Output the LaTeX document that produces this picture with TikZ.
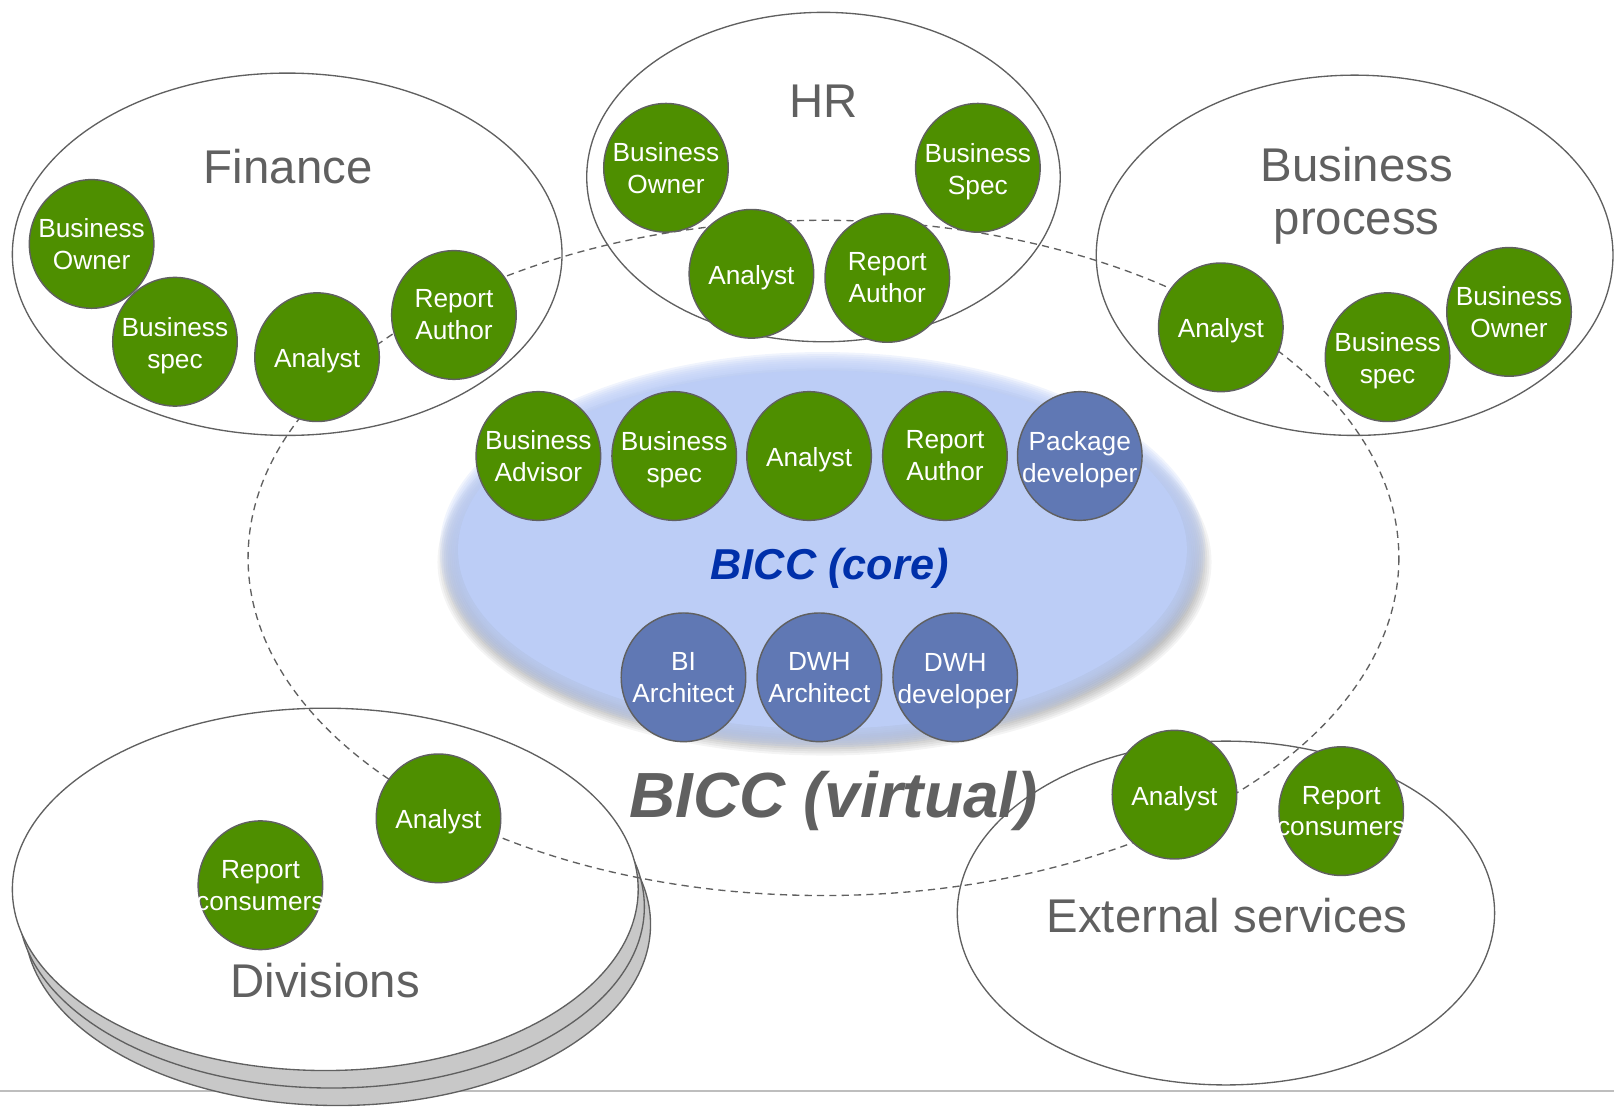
\documentclass[tikz,border=0pt]{standalone}
\usepackage{fontspec}
\setmainfont{Liberation Sans}
\usetikzlibrary{shapes.geometric}
\definecolor{rolegreen}{RGB}{78,143,0}
\definecolor{roleblue}{RGB}{96,120,180}
\definecolor{edgegray}{RGB}{96,96,96}
\definecolor{labelgray}{RGB}{96,96,96}
\definecolor{corefill}{RGB}{188,205,246}
\definecolor{coreblue}{RGB}{0,48,170}
\definecolor{stackgray}{RGB}{200,200,200}
\definecolor{rulegray}{RGB}{190,190,190}
\newcommand\rolefnt{\fontsize{25.5}{31}\selectfont}
\newcommand\groupfnt{\fontsize{46}{52}\selectfont}
\tikzset{
  role/.style={ellipse, minimum width=121pt, minimum height=125pt, inner sep=0pt,
    draw=edgegray, line width=1.4pt, fill=rolegreen},
  rolebl/.style={role, fill=roleblue},
  roletext/.style={text=white, font=\rolefnt, align=center, inner sep=0pt},
  group/.style={draw=edgegray, line width=1.3pt},
  grouplabel/.style={text=labelgray, font=\groupfnt, align=center, inner sep=0pt},
  virtualring/.style={draw=edgegray, line width=1.3pt, dash pattern=on 7pt off 5pt},
}
% #1 circle style, #2 name, #3 position, #4 text, #5 vertical text shift
\newcommand\rolec[5]{\node[#1] (#2) at (#3) {}; \node[roletext, yshift=#5] (#2-t) at (#2) {#4};}
\begin{document}
\begin{tikzpicture}[x=1pt,y=-1pt]
\useasboundingbox (0,0) rectangle (1568,1077);
% bottom rule
\draw[rulegray, line width=2pt] (0,1060) -- (1568,1060);
% group ellipses
\draw[group] (279,247) ellipse (267 and 176);
\draw[group] (800,172) ellipse (230 and 160);
\draw[group] (1316,248) ellipse (251 and 175);
\draw[group] (1191,887) ellipse (261 and 167);
% divisions stack
\filldraw[group, fill=stackgray] (328,898) ellipse (304 and 176);
\filldraw[group, fill=stackgray] (322,881) ellipse (304 and 176);
\filldraw[group, fill=white] (316,864) ellipse (304 and 176);
% virtual BICC
\draw[virtualring] (800,542) ellipse (559 and 328);
% core BICC: soft shadow, soft edge, solid body
\foreach \i in {0,...,9}
  \fill[black, opacity=0.045] (801,546) ellipse ({358+2*\i} and {170+2*\i});
\foreach \i in {0,...,9}
  \fill[corefill, opacity=0.22] (799,534) ellipse ({354+2*\i} and {174+2*\i});
\fill[corefill] (799,534) ellipse (354 and 174);
% group labels
\node[grouplabel] (lfin) at (280,162) {Finance};
\node[grouplabel] (lhr) at (800,98) {HR};
\node[grouplabel] (lbp) at (1318,190) {Business\\process};
\node[grouplabel] (ldiv) at (316,953) {Divisions};
\node[grouplabel] (lext) at (1192,889) {External services};
\node[text=coreblue, font=\fontsize{42}{48}\selectfont\bfseries\itshape, inner sep=0pt] (lcore) at (806,552) {BICC (core)};
% Finance roles
\rolec{role}{fbo}{89,237}{Business\\Owner}{0pt}
\rolec{role}{fbs}{170,332}{Business\\spec}{-3.5pt}
\rolec{role}{fan}{308,347}{Analyst}{-3.5pt}
\rolec{role}{fra}{441,306}{Report\\Author}{0pt}
% HR roles
\rolec{role}{hbo}{647,163}{Business\\Owner}{0pt}
\rolec{role}{hbs}{950,163}{Business\\Spec}{-3.5pt}
\rolec{role}{han}{730,266}{Analyst}{-3.5pt}
\rolec{role}{hra}{862,270}{Report\\Author}{0pt}
% Business process roles
\rolec{role}{ban}{1186,318}{Analyst}{-3.5pt}
\rolec{role}{bbs}{1348,347}{Business\\spec}{-3.5pt}
\rolec{role}{bbo}{1466,303}{Business\\Owner}{0pt}
% core roles
\rolec{role}{cba}{523,443}{Business\\Advisor}{0pt}
\rolec{role}{cbs}{655,443}{Business\\spec}{-3.5pt}
\rolec{role}{can}{786,443}{Analyst}{-3.5pt}
\rolec{role}{cra}{918,443}{Report\\Author}{0pt}
\rolec{rolebl}{cpd}{1049,443}{Package\\developer}{-3.5pt}
\rolec{rolebl}{cbi}{664,658}{BI\\Architect}{0pt}
\rolec{rolebl}{cda}{796,658}{DWH\\Architect}{0pt}
\rolec{rolebl}{cdd}{928,658}{DWH\\developer}{-3.5pt}
% Divisions roles
\rolec{role}{dan}{426,795}{Analyst}{-3.5pt}
\rolec{role}{drc}{253,860}{Report\\consumers}{0pt}
% External roles
\rolec{role}{ean}{1141,772}{Analyst}{-3.5pt}
\rolec{role}{erc}{1303,788}{Report\\consumers}{0pt}
% virtual label
\node[text=labelgray, font=\fontsize{62}{70}\selectfont\bfseries\itshape, inner sep=0pt] (lvirt) at (810,778) {BICC (virtual)};
\end{tikzpicture}
\end{document}
